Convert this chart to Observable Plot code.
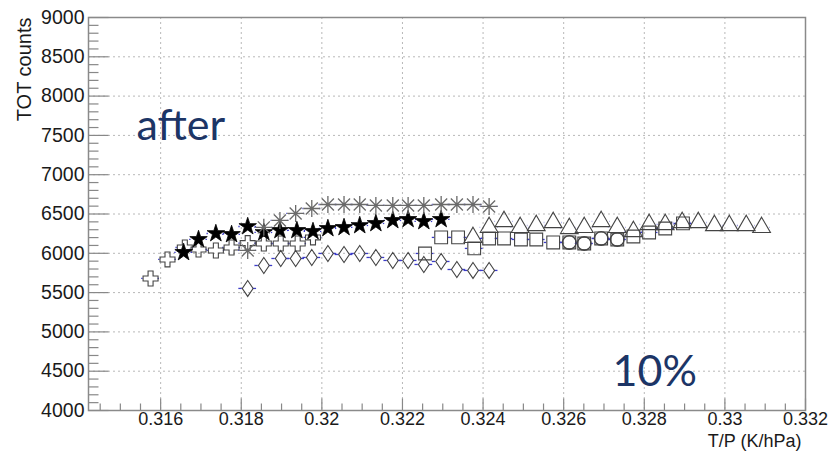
<!DOCTYPE html>
<html><head><meta charset="utf-8">
<script src="https://cdn.jsdelivr.net/npm/d3@7"></script>
<script src="https://cdn.jsdelivr.net/npm/@observablehq/plot@0.6"></script>
<style>
html,body{margin:0;padding:0;background:#fff;}
#chart{width:831px;height:452px;}
</style></head><body><div id="chart"></div>
<script>
// ---- data ----
const xTicks = [0.316, 0.318, 0.320, 0.322, 0.324, 0.326, 0.328, 0.330, 0.332];
const xTickLabels = ["0.316", "0.318", "0.32", "0.322", "0.324", "0.326", "0.328", "0.33", "0.332"];
const yTicks = [4000, 4500, 5000, 5500, 6000, 6500, 7000, 7500, 8000, 8500, 9000];
const xTitle = "T/P (K/hPa)";
const yTitle = "TOT counts";
const noteAfter = "after";
const notePct = "10%";
const XERR = 0.00022;

const diamondX = [0.31816, 0.31856, 0.31898, 0.31935, 0.31975, 0.32015, 0.32055, 0.32094, 0.32134, 0.32176, 0.32214, 0.32253, 0.32296, 0.32335, 0.32375, 0.32415];
const diamondY = [5553, 5845, 5934, 5934, 5947, 5998, 5985, 5998, 5947, 5909, 5909, 5858, 5896, 5794, 5782, 5782];

const crossX = [0.31575, 0.31617, 0.31660, 0.31694, 0.31737, 0.31776, 0.31816, 0.31856, 0.31898, 0.31940, 0.31978];
const crossY = [5680, 5922, 6074, 6049, 6036, 6074, 6130, 6125, 6125, 6125, 6202];

const starX = [0.31657, 0.31694, 0.31737, 0.31776, 0.31816, 0.31856, 0.31896, 0.31938, 0.31978, 0.32015, 0.32055, 0.32094, 0.32134, 0.32176, 0.32214, 0.32253, 0.32296];
const starY = [6011, 6176, 6252, 6240, 6341, 6265, 6291, 6291, 6278, 6316, 6329, 6354, 6380, 6418, 6431, 6405, 6431];

const asterX = [0.31816, 0.31856, 0.31896, 0.31935, 0.31975, 0.32015, 0.32055, 0.32094, 0.32134, 0.32176, 0.32214, 0.32253, 0.32296, 0.32335, 0.32375, 0.32415];
const asterY = [6036, 6330, 6418, 6507, 6570, 6621, 6621, 6621, 6609, 6609, 6609, 6609, 6621, 6621, 6621, 6596];

const squareX = [0.32256, 0.32296, 0.32338, 0.32378, 0.32415, 0.32452, 0.32494, 0.32532, 0.32574, 0.32614, 0.32651, 0.32693, 0.32733, 0.32773, 0.32812, 0.32852, 0.32896];
const squareY = [5998, 6202, 6202, 6062, 6189, 6189, 6176, 6176, 6138, 6138, 6125, 6189, 6176, 6214, 6265, 6316, 6380];

const circleX = [0.32614, 0.32651, 0.32693, 0.32733];
const circleY = [6138, 6125, 6189, 6176];

const triX = [0.32375, 0.32415, 0.32452, 0.32492, 0.32532, 0.32574, 0.32614, 0.32651, 0.32693, 0.32733, 0.32773, 0.32812, 0.32852, 0.32894, 0.32934, 0.32974, 0.33011, 0.33053, 0.33091];
const triY = [6202, 6329, 6405, 6329, 6354, 6392, 6316, 6329, 6405, 6329, 6278, 6367, 6367, 6392, 6392, 6354, 6354, 6354, 6329];

// ---- build ----
const pts = (xs, ys) => xs.map((x, i) => ({x, y: ys[i]}));
const xMinor = d3.range(0, 36).map(i => +(0.3145 + i * 0.0005).toFixed(4)).filter(v => v <= 0.332 && !xTicks.some(t => Math.abs(t - v) < 1e-9));
const yMinor = d3.range(4000, 9001, 100).filter(v => v % 500 !== 0);

const tickRight = L => ({draw(ctx) { ctx.moveTo(0, 0); ctx.lineTo(L, 0); }});
const tickUp = L => ({draw(ctx) { ctx.moveTo(0, 0); ctx.lineTo(0, -L); }});
const aster8 = {draw(ctx, size) {
  const r = Math.sqrt(size / Math.PI);
  for (let k = 0; k < 4; k++) {
    const a = k * Math.PI / 4, c = r * Math.cos(a), s = r * Math.sin(a);
    ctx.moveTo(c, s); ctx.lineTo(-c, -s);
  }
}};
const wideDiamond = {draw(ctx, size) {
  const r = Math.sqrt(size / Math.PI), h = r * 1.7, w = r * 1.15;
  ctx.moveTo(0, -h); ctx.lineTo(w, 0); ctx.lineTo(0, h); ctx.lineTo(-w, 0); ctx.closePath();
}};

function series(data, symbol, r, half, fill, stroke, sw = 1.1) {
  return [
    Plot.ruleY(data, {x1: d => d.x - XERR, x2: d => d.x, y: "y", stroke: "#3c3cc8", strokeWidth: 1.3, insetRight: half}),
    Plot.ruleY(data, {x1: d => d.x, x2: d => d.x + XERR, y: "y", stroke: "#3c3cc8", strokeWidth: 1.3, insetLeft: half}),
    Plot.dot(data, {x: "x", y: "y", symbol, r, fill, stroke, strokeWidth: sw})
  ];
}

const chart = Plot.plot({
  width: 831, height: 452,
  marginLeft: 88, marginRight: 26, marginTop: 17, marginBottom: 42,
  x: {domain: [0.31421, 0.332]},
  y: {domain: [4000, 9000]},
  style: {fontFamily: "'Liberation Sans', Arial, sans-serif", background: "white", color: "#1a1a1a"},
  marks: [
    Plot.ruleX(xTicks.slice(0, -1), {stroke: "#b8b8b8", strokeDasharray: "2,3"}),
    Plot.ruleY(yTicks.slice(1, -1), {stroke: "#b8b8b8", strokeDasharray: "2,3"}),
    Plot.dot(yMinor, {y: d => d, frameAnchor: "left", symbol: tickRight(10), fill: "none", stroke: "#888", strokeWidth: 1.2}),
    Plot.dot(yTicks, {y: d => d, frameAnchor: "left", symbol: tickRight(20), fill: "none", stroke: "#888", strokeWidth: 1.2}),
    Plot.dot(xMinor, {x: d => d, frameAnchor: "bottom", symbol: tickUp(7), fill: "none", stroke: "#888", strokeWidth: 1.2}),
    Plot.dot(xTicks, {x: d => d, frameAnchor: "bottom", symbol: tickUp(12), fill: "none", stroke: "#888", strokeWidth: 1.2}),
    Plot.frame({stroke: "#8a8a8a", strokeWidth: 1.5}),
    Plot.axisX(xTicks, {tickSize: 0, tickPadding: 2, fontSize: 18, label: null, tickFormat: d => xTickLabels[xTicks.indexOf(d)]}),
    Plot.axisY(yTicks, {tickSize: 0, tickPadding: 4, fontSize: 19.5, label: null, tickFormat: d => String(d)}),
    ...series(pts(diamondX, diamondY), wideDiamond, 4.7, 5.5, "none", "#444"),
    ...series(pts(crossX, crossY), "cross", 6.3, 7.5, "none", "#444"),
    ...series(pts(starX, starY), "star", 5.5, 7.5, "#000", "#000", 0.8),
    ...series(pts(asterX, asterY), aster8, 8.5, 8, "none", "#6a6a6a", 1.3),
    ...series(pts(squareX, squareY), "square", 7.2, 6.5, "none", "#444"),
    ...series(pts(circleX, circleY), "circle", 6.8, 7, "none", "#444", 1.4),
    ...series(pts(triX, triY), "triangle", 6.6, 8.5, "none", "#444"),
    Plot.text([yTitle], {frameAnchor: "top-left", dx: -64, dy: 0, rotate: -90, textAnchor: "end", lineAnchor: "middle", fontSize: 20, fill: "#1a1a1a"}),
    Plot.text([xTitle], {frameAnchor: "bottom-right", dx: -4, dy: 31, textAnchor: "end", lineAnchor: "middle", fontSize: 18, fill: "#1a1a1a"}),
    Plot.text([noteAfter], {frameAnchor: "top-left", dx: 48, dy: 109, textAnchor: "start", lineAnchor: "middle", fontSize: 43, fontFamily: "Lato, 'Open Sans', sans-serif", fill: "#1c3566"}),
    Plot.text([notePct], {frameAnchor: "top-left", dx: 524, dy: 355, textAnchor: "start", lineAnchor: "middle", fontSize: 43, fontFamily: "Lato, 'Open Sans', sans-serif", fill: "#1c3566"})
  ]
});
document.getElementById("chart").appendChild(chart);
</script>
</body></html>
